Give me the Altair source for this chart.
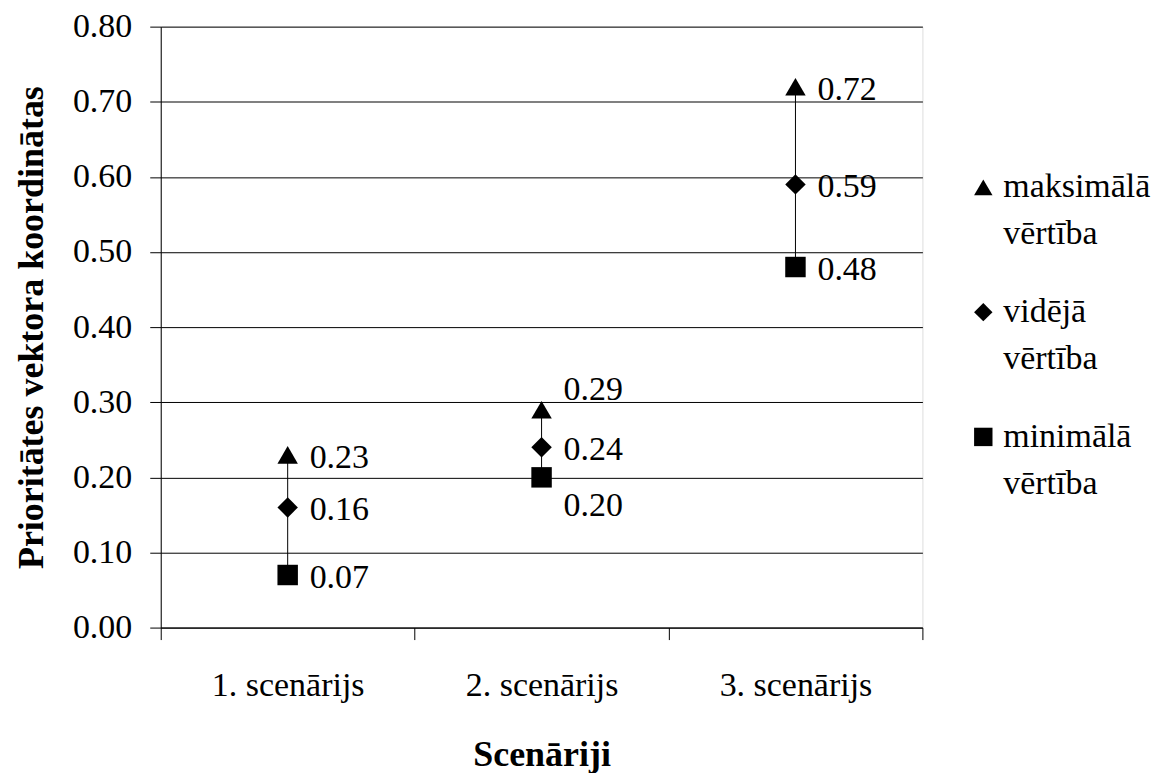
import altair as alt
import pandas as pd

scenarios = ["1. scenārijs", "2. scenārijs", "3. scenārijs"]
series = ["maksimālā vērtība", "vidējā vērtība", "minimālā vērtība"]
max_vals = [0.23, 0.29, 0.72]
avg_vals = [0.16, 0.24, 0.59]
min_vals = [0.07, 0.20, 0.48]
y_ticks = [0.0, 0.1, 0.2, 0.3, 0.4, 0.5, 0.6, 0.7, 0.8]

rows = []
for i, s in enumerate(scenarios):
    for ser, vals in zip(series, [max_vals, avg_vals, min_vals]):
        rows.append({"scenario": s, "series": ser, "value": vals[i]})
df = pd.DataFrame(rows)
range_df = pd.DataFrame({"scenario": scenarios, "lo": min_vals, "hi": max_vals})

FONT = "Liberation Serif, Times New Roman, serif"
FS = 34

x_enc = alt.X(
    "scenario:N",
    sort=scenarios,
    scale=alt.Scale(type="band", paddingInner=0, paddingOuter=0),
    axis=alt.Axis(
        title="Scenāriji",
        titleFont=FONT, titleFontSize=36, titleFontWeight="bold", titlePadding=35,
        labelFont=FONT, labelFontSize=FS, labelAngle=0, labelPadding=29,
        tickBand="extent", tickSize=12, tickColor="black", domainColor="black",
        labelColor="black", titleColor="black", grid=False,
    ),
)


def y_enc(field):
    return alt.Y(
        field,
        scale=alt.Scale(domain=[0, 0.8], nice=False, zero=True),
        title="Prioritātes vektora koordinātas",
        axis=alt.Axis(
            values=y_ticks, format=".2f",
            titleFont=FONT, titleFontSize=36, titleFontWeight="bold", titlePadding=22,
            labelFont=FONT, labelFontSize=FS, labelPadding=18,
            tickSize=11, tickColor="black", domainColor="black",
            labelColor="black", titleColor="black",
            grid=True, gridColor="black", gridOpacity=1, gridWidth=1,
        ),
    )


rules = alt.Chart(range_df).mark_rule(color="black", strokeWidth=1).encode(
    x=x_enc, y=y_enc("lo:Q"), y2="hi:Q"
)

points = alt.Chart(df).mark_point(filled=True, opacity=1, size=420).encode(
    x=x_enc,
    y=y_enc("value:Q"),
    shape=alt.Shape(
        "series:N",
        scale=alt.Scale(domain=series, range=["triangle-up", "diamond", "square"]),
        legend=alt.Legend(
            title=None, orient="none", legendX=807, legendY=144, padding=0,
            labelFont=FONT, labelFontSize=FS, labelColor="black",
            labelExpr="split(datum.label, ' ')", labelLimit=300,
            symbolSize=340, symbolFillColor="black", symbolStrokeColor="black",
            rowPadding=44, labelOffset=3, labelBaseline="middle",
        ),
    ),
    color=alt.value("black"),
)

text_base = alt.Chart(df).mark_text(
    align="left", baseline="middle", dx=22, dy=3,
    font=FONT, fontSize=FS, color="black"
).encode(x=x_enc, y=y_enc("value:Q"), text=alt.Text("value:Q", format=".2f"))

labels_normal = text_base.transform_filter(
    "!(datum.scenario == '2. scenārijs' && datum.series != 'vidējā vērtība')"
)
label_up = text_base.mark_text(
    align="left", baseline="middle", dx=22, dy=-20,
    font=FONT, fontSize=FS, color="black"
).transform_filter(
    "datum.scenario == '2. scenārijs' && datum.series == 'maksimālā vērtība'"
)
label_down = text_base.mark_text(
    align="left", baseline="middle", dx=22, dy=29,
    font=FONT, fontSize=FS, color="black"
).transform_filter(
    "datum.scenario == '2. scenārijs' && datum.series == 'minimālā vērtība'"
)

chart = alt.layer(rules, points, labels_normal, label_up, label_down).properties(
    width=763, height=602,
    autosize=alt.AutoSizeParams(type="none"),
    padding={"left": 153, "top": 18, "right": 230, "bottom": 148},
).configure_view(stroke=None).configure(
    background="white",
    style={"guide-label": {"lineHeight": 47}},
)

chart.save("out.html", embed_options={"renderer": "svg", "actions": False})
